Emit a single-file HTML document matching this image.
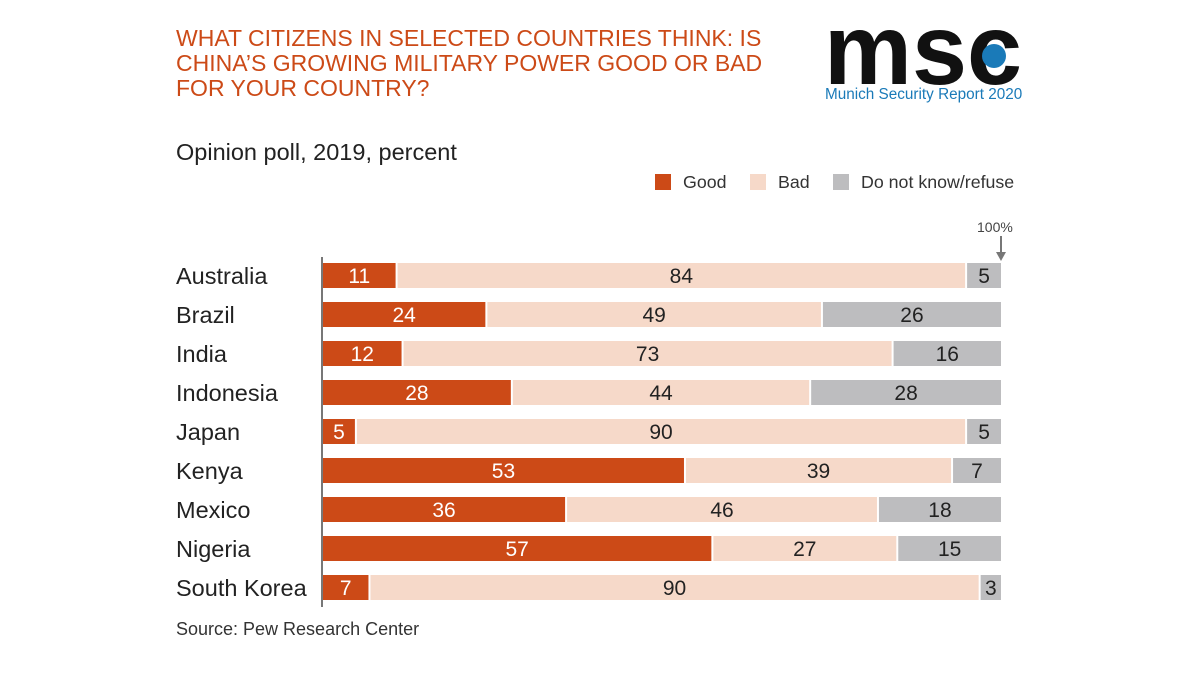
<!DOCTYPE html>
<html><head><meta charset="utf-8"><style>
body{margin:0;background:#fff;font-family:"Liberation Sans",Arial,sans-serif;}
#root{position:relative;width:1200px;height:675px;overflow:hidden;background:#fff;}
.t{position:absolute;white-space:nowrap;}
</style></head><body>
<div id="root">
<div class="t" style="left:176px;top:26px;font-size:23px;line-height:25px;color:#cc4a17;">WHAT CITIZENS IN SELECTED COUNTRIES THINK: IS<br>CHINA’S GROWING MILITARY POWER GOOD OR BAD<br>FOR YOUR COUNTRY?</div>
<svg style="position:absolute;left:0;top:0" width="1200" height="110">
<text x="824" y="84" font-size="100" font-weight="bold" font-family="Liberation Sans, sans-serif" fill="#111" textLength="198" lengthAdjust="spacingAndGlyphs">msc</text>
<circle cx="994" cy="56" r="12" fill="#1a7ab8"/>
<text x="825" y="99" font-size="15.3" font-family="Liberation Sans, sans-serif" fill="#1a7ab8">Munich Security Report 2020</text>
</svg>
<div class="t" style="left:176px;top:139px;font-size:23.5px;color:#222;">Opinion poll, 2019, percent</div>
<div>
<div style="position:absolute;left:655px;top:174px;width:16px;height:16px;background:#cc4a17;"></div>
<div class="t" style="left:683px;top:172px;font-size:17.8px;color:#333;">Good</div>
<div style="position:absolute;left:750px;top:174px;width:16px;height:16px;background:#f6d9c9;"></div>
<div class="t" style="left:778px;top:172px;font-size:17.8px;color:#333;">Bad</div>
<div style="position:absolute;left:833px;top:174px;width:16px;height:16px;background:#bdbdbf;"></div>
<div class="t" style="left:861px;top:172px;font-size:17.8px;color:#333;">Do not know/refuse</div>
</div>
<div class="t" style="left:977px;top:219px;font-size:14px;color:#444;">100%</div>
<svg style="position:absolute;left:993px;top:236px" width="16" height="26"><line x1="8" y1="0" x2="8" y2="18" stroke="#777" stroke-width="2"/><polygon points="3,16 13,16 8,25" fill="#777"/></svg>
<svg id="chart" width="1200" height="675" style="position:absolute;left:0;top:0"></svg>
<div class="t" style="left:176px;top:619px;font-size:18px;color:#333;">Source: Pew Research Center</div>
</div>
<script>
const countries=["Australia","Brazil","India","Indonesia","Japan","Kenya","Mexico","Nigeria","South Korea"];
const good=[11,24,12,28,5,53,36,57,7];
const bad=[84,49,73,44,90,39,46,27,90];
const dk=[5,26,16,28,5,7,18,15,3];
const svg=document.getElementById('chart');
const NS='http://www.w3.org/2000/svg';
const x0=323,x1=1001,rowY0=276,rowStep=39,barH=25;
function xs(f){return x0+f*(x1-x0);}
function yc(i){return rowY0+i*rowStep;}
const colors=["#cc4a17","#f6d9c9","#bdbdbf"];
const tcol=["#fff","#222","#222"];
countries.forEach((c,i)=>{
  const lab=document.createElementNS(NS,'text');
  
  
  lab.setAttribute('x',176);lab.setAttribute('y',yc(i)+8);
  lab.setAttribute('font-size','23.5');lab.setAttribute('fill','#222');
  lab.setAttribute('font-family','Liberation Sans, sans-serif');
  lab.textContent=c;svg.appendChild(lab);
  const vals=[good[i],bad[i],dk[i]];
  const tot=vals[0]+vals[1]+vals[2];
  let acc=0;
  vals.forEach((v,k)=>{
    const a=xs(acc/tot),b=xs((acc+v)/tot);acc+=v;
    const r=document.createElementNS(NS,'rect');
    
    
    const gap=k<2?2:0;
    r.setAttribute('x',a);r.setAttribute('y',yc(i)-barH/2-0.5);
    r.setAttribute('width',Math.max(0,b-a-gap));r.setAttribute('height',barH);
    r.setAttribute('fill',colors[k]);svg.appendChild(r);
    const t=document.createElementNS(NS,'text');
    
    
    t.setAttribute('x',(a+b-gap)/2);t.setAttribute('y',yc(i)+7);
    t.setAttribute('text-anchor','middle');t.setAttribute('font-size','21');
    t.setAttribute('fill',tcol[k]);t.setAttribute('font-family','Liberation Sans, sans-serif');
    t.textContent=v;svg.appendChild(t);
  });
});
const ax=document.createElementNS(NS,'line');


ax.setAttribute('x1',322);ax.setAttribute('x2',322);ax.setAttribute('y1',257);ax.setAttribute('y2',607);
ax.setAttribute('stroke','#777');ax.setAttribute('stroke-width','2');svg.appendChild(ax);
</script>
</body></html>
